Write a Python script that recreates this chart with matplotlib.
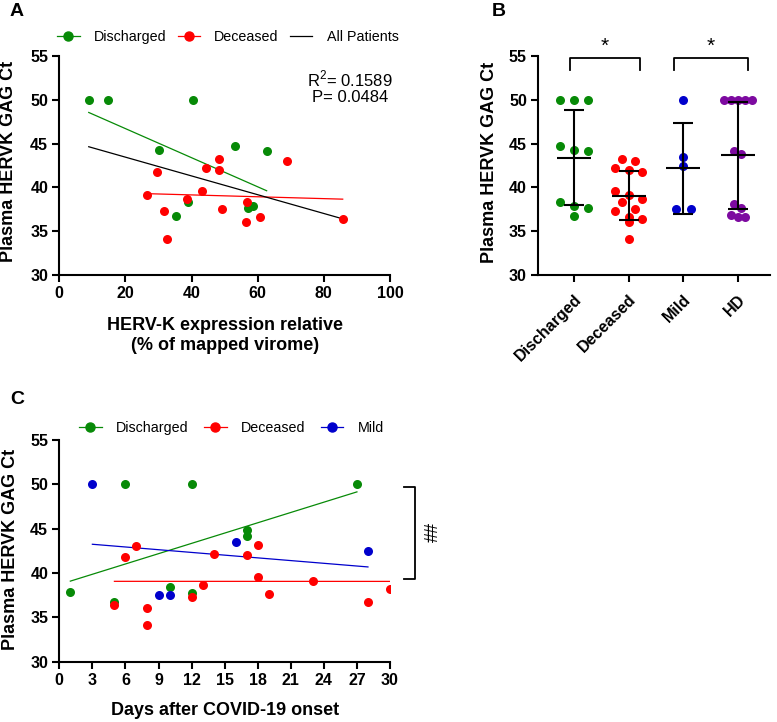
import numpy as np
import matplotlib

matplotlib.use("Agg")
import matplotlib.pyplot as plt
from matplotlib.lines import Line2D

plt.rcParams["font.family"] = ["Liberation Sans", "DejaVu Sans"]
plt.rcParams["mathtext.fontset"] = "custom"
plt.rcParams["mathtext.rm"] = "Liberation Sans"

GREEN = "#078a07"
RED = "#ff0000"
BLUE = "#0000cc"
PURPLE = "#7d0aa0"

# panel A: HERV-K expression (% of mapped virome) vs plasma Ct
A_DIS_X = [8.9, 14.6, 40.5, 30.0, 53.2, 62.7, 39.0, 35.4, 57.0, 58.5]
A_DIS_Y = [50.0, 50.0, 50.0, 44.3, 44.7, 44.2, 38.4, 36.7, 37.7, 37.9]
A_DEC_X = [26.5, 29.5, 31.8, 32.5, 38.6, 43.2, 44.3, 48.3, 48.2, 49.3, 56.9, 56.5, 60.7, 68.9, 85.7]
A_DEC_Y = [39.1, 41.8, 37.3, 34.1, 38.7, 39.6, 42.2, 43.2, 42.0, 37.6, 38.3, 36.1, 36.6, 43.0, 36.4]
A_R2 = "0.1589"
A_P = "0.0484"

# panel B: groups
B_GROUPS = ["Discharged", "Deceased", "Mild", "HD"]
B_DIS = A_DIS_Y
B_DEC = A_DEC_Y
B_MILD = [50.0, 43.5, 42.5, 37.5, 37.5]
B_HD = [50.0, 50.0, 50.0, 50.0, 50.0, 44.1, 43.8, 38.1, 37.7, 36.9, 36.6, 36.6]

# panel C: days after onset
C_DIS_X = [1, 5, 6, 10, 12, 12, 17, 17, 27]
C_DIS_Y = [37.9, 36.7, 50.0, 38.4, 50.0, 37.7, 44.8, 44.2, 50.0]
C_DEC_X = [5, 6, 7, 8, 8, 12, 13, 14, 17, 18, 18, 19, 23, 28, 30]
C_DEC_Y = [36.4, 41.8, 43.0, 36.1, 34.1, 37.3, 38.6, 42.2, 42.0, 43.2, 39.6, 37.6, 39.1, 36.7, 38.2]
C_MILD_X = [3, 9, 10, 16, 28]
C_MILD_Y = [50.0, 37.5, 37.5, 43.5, 42.5]

W, H = 777, 722
TICK_FS = 11.5
LABEL_FS = 13
LEG_FS = 10.3
MS = 6.5


def px_axes(fig, left, right, top, bottom):
    return fig.add_axes([left / W, 1 - bottom / H, (right - left) / W, (bottom - top) / H])


def style_axes(ax):
    for s in ("top", "right"):
        ax.spines[s].set_visible(False)
    for s in ("left", "bottom"):
        ax.spines[s].set_linewidth(1.5)
    ax.tick_params(width=1.5, length=5, labelsize=TICK_FS, pad=3)
    for lab in ax.get_xticklabels() + ax.get_yticklabels():
        lab.set_fontweight("bold")


def fit_line(ax, x, y, color):
    x = np.asarray(x, float)
    k, b = np.polyfit(x, y, 1)
    xs = np.array([x.min(), x.max()])
    ax.plot(xs, k * xs + b, color=color, lw=0.9, zorder=2)


def swarm(values, spacing, tol=0.91):
    vals = np.asarray(values, float)
    order = np.argsort(-vals, kind="stable")
    offs = np.zeros(len(vals))
    groups, cur = [], [order[0]]
    for i in order[1:]:
        if vals[cur[0]] - vals[i] < tol:
            cur.append(i)
        else:
            groups.append(cur)
            cur = [i]
    groups.append(cur)
    for g in groups:
        n = len(g)
        for j, i in enumerate(g):
            offs[i] = (j - (n - 1) / 2) * spacing
    return offs


fig = plt.figure(figsize=(W / 100, H / 100), dpi=100, facecolor="white")

# ---- panel A
ax = px_axes(fig, 59.3, 390, 55.7, 275.3)
ax.scatter(A_DIS_X, A_DIS_Y, s=MS**2, color=GREEN, zorder=3, linewidths=0)
ax.scatter(A_DEC_X, A_DEC_Y, s=MS**2, color=RED, zorder=3, linewidths=0)
fit_line(ax, A_DIS_X, A_DIS_Y, GREEN)
fit_line(ax, A_DEC_X, A_DEC_Y, RED)
fit_line(ax, A_DIS_X + A_DEC_X, A_DIS_Y + A_DEC_Y, "black")
ax.set_xlim(0, 100)
ax.set_ylim(30, 55)
ax.set_xticks(range(0, 101, 20))
ax.set_yticks(range(30, 56, 5))
ax.text(0.878, 0.86, f"R$^2$= {A_R2}\nP= {A_P}", transform=ax.transAxes, ha="center", va="center",
        fontsize=12, linespacing=1.05)
ax.set_ylabel("Plasma HERVK GAG Ct", fontsize=LABEL_FS, fontweight="bold")
ax.yaxis.set_label_coords(-0.128, 0.52)
ax.set_xlabel("HERV-K expression relative\n(% of mapped virome)", fontsize=LABEL_FS, fontweight="bold", linespacing=1.2)
ax.xaxis.set_label_coords(0.5, -0.19)
style_axes(ax)
handles = [
    Line2D([], [], color=GREEN, marker="o", ms=MS, lw=0.9, label="Discharged"),
    Line2D([], [], color=RED, marker="o", ms=MS, lw=0.9, label="Deceased"),
    Line2D([], [], color="black", lw=0.9, label="All Patients"),
]
fig.legend(handles=handles, loc="center", bbox_to_anchor=(228 / W, 1 - 37 / H), ncol=3, frameon=False,
           fontsize=LEG_FS, handlelength=1.55, handletextpad=1.0, columnspacing=0.8)
fig.text(10 / W, 1 - 12 / H, "A", fontsize=14, fontweight="bold", va="center")

# ---- panel B
ax = px_axes(fig, 538, 770, 55.7, 275.3)
colors = [GREEN, RED, BLUE, PURPLE]
spacings = [0.26, 0.245, 0.28, 0.13]
for i, (vals, c, sp) in enumerate(zip([B_DIS, B_DEC, B_MILD, B_HD], colors, spacings)):
    xs = i + swarm(vals, sp)
    ax.scatter(xs, vals, s=MS**2, color=c, zorder=2, linewidths=0)
    m, sd = np.mean(vals), np.std(vals, ddof=1)
    ax.errorbar(i, m, yerr=sd, color="black", capsize=7, elinewidth=1.5, capthick=1.5, zorder=3)
    ax.hlines(m, i - 0.31, i + 0.31, color="black", lw=1.5, zorder=3)
ax.set_xlim(-0.66, 3.59)
ax.set_ylim(30, 55)
ax.set_yticks(range(30, 56, 5))
ax.set_xticks(range(4))
ax.set_xticklabels(B_GROUPS, rotation=45, ha="right", va="top", rotation_mode="anchor")
for x0, x1 in [(-0.08, 1.2), (1.83, 3.19)]:
    ax.plot([x0, x0, x1, x1], [53.4, 54.7, 54.7, 53.4], color="black", lw=1.3, clip_on=False)
    ax.text((x0 + x1) / 2, 55.0, "*", ha="center", va="bottom", fontsize=15)
ax.set_ylabel("Plasma HERVK GAG Ct", fontsize=LABEL_FS, fontweight="bold")
ax.yaxis.set_label_coords(-0.172, 0.515)
style_axes(ax)
ax.tick_params(axis="x", pad=7)
fig.text(492 / W, 1 - 12 / H, "B", fontsize=14, fontweight="bold", va="center")

# ---- panel C
ax = px_axes(fig, 59.3, 390, 440, 661.7)
ax.scatter(C_DIS_X, C_DIS_Y, s=MS**2, color=GREEN, zorder=3, linewidths=0)
ax.scatter(C_DEC_X, C_DEC_Y, s=MS**2, color=RED, zorder=3, linewidths=0)
ax.scatter(C_MILD_X, C_MILD_Y, s=MS**2, color=BLUE, zorder=3, linewidths=0)
fit_line(ax, C_DIS_X, C_DIS_Y, GREEN)
fit_line(ax, C_DEC_X, C_DEC_Y, RED)
fit_line(ax, C_MILD_X, C_MILD_Y, BLUE)
ax.set_xlim(0, 30)
ax.set_ylim(30, 55)
ax.set_xticks(range(0, 31, 3))
ax.set_yticks(range(30, 56, 5))
ax.plot([31.27, 32.24, 32.24, 31.27], [49.73, 49.73, 39.3, 39.3], color="black", lw=1.3, clip_on=False)
ax.text(33.4, 44.5, "##", rotation=270, ha="center", va="center", fontsize=13)
ax.set_ylabel("Plasma HERVK GAG Ct", fontsize=LABEL_FS, fontweight="bold")
ax.yaxis.set_label_coords(-0.122, 0.508)
ax.set_xlabel("Days after COVID-19 onset", fontsize=LABEL_FS, fontweight="bold")
ax.xaxis.set_label_coords(0.5, -0.18)
style_axes(ax)
handles = [
    Line2D([], [], color=GREEN, marker="o", ms=MS, lw=0.9, label="Discharged"),
    Line2D([], [], color=RED, marker="o", ms=MS, lw=0.9, label="Deceased"),
    Line2D([], [], color=BLUE, marker="o", ms=MS, lw=0.9, label="Mild"),
]
fig.legend(handles=handles, loc="center", bbox_to_anchor=(231.5 / W, 1 - 428 / H), ncol=3, frameon=False,
           fontsize=LEG_FS, handlelength=1.6, handletextpad=1.0, columnspacing=1.05)
fig.text(10 / W, 1 - 400 / H, "C", fontsize=14, fontweight="bold", va="center")

fig.savefig("out.png", dpi=100, facecolor="white")
